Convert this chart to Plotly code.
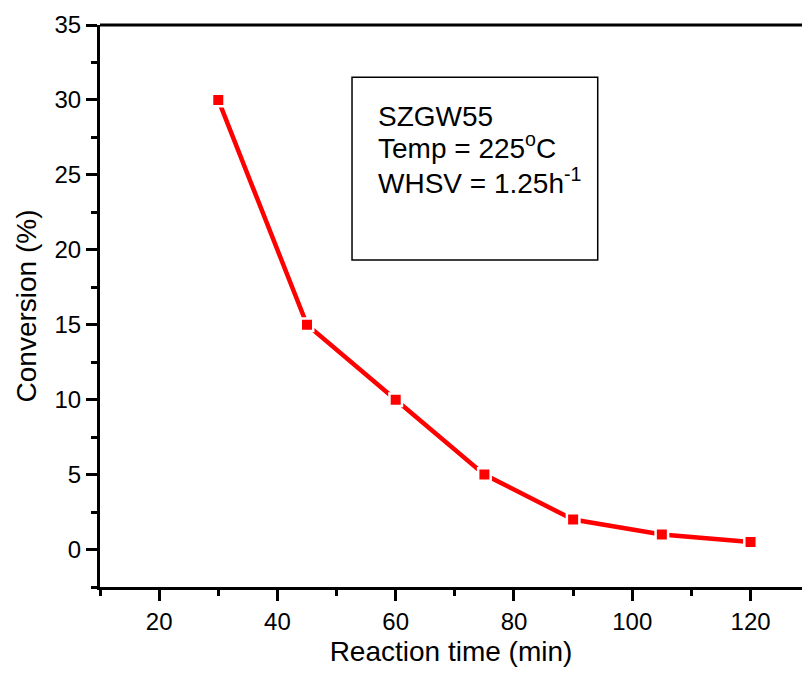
import plotly.graph_objects as go

reaction_time = [30, 45, 60, 75, 90, 105, 120]
conversion = [30, 15, 10, 5, 2, 1, 0.5]
box_lines = ["SZGW55", "Temp = 225<sup>o</sup>C", "WHSV = 1.25h<sup>-1</sup>"]

FONT = "Liberation Sans, Arial, sans-serif"
RED = "#ff0000"

fig = go.Figure()
fig.add_trace(go.Scatter(
    x=reaction_time, y=conversion, mode="lines+markers",
    line=dict(color=RED, width=4.5),
    marker=dict(symbol="square", size=12.5, color=RED, line=dict(color="white", width=2.5)),
    showlegend=False,
))

axis_common = dict(
    showgrid=False, zeroline=False, showline=True, linecolor="black", linewidth=3,
    ticks="outside", tickcolor="black", tickwidth=3,
    tickfont=dict(family=FONT, size=24, color="black"),
)

fig.update_xaxes(
    range=[10, 128.7], tick0=0, dtick=20, ticklen=11,
    minor=dict(dtick=10, tick0=0, ticklen=6, tickwidth=3, tickcolor="black", ticks="outside"),
    title=dict(text="Reaction time (min)", font=dict(family=FONT, size=28, color="black"), standoff=8),
    **axis_common,
)
fig.update_yaxes(
    range=[-2.5, 35], tick0=0, dtick=5, ticklen=11,
    minor=dict(dtick=2.5, tick0=0, ticklen=6, tickwidth=3, tickcolor="black", ticks="outside"),
    title=dict(text="Conversion (%)", font=dict(family=FONT, size=28, color="black"), standoff=10),
    **axis_common,
)

# top border line
fig.add_shape(type="line", xref="paper", yref="paper", x0=0, x1=1, y0=1, y1=1,
              line=dict(color="black", width=3))
# text box
fig.add_shape(type="rect", xref="paper", yref="paper", x0=0.359, x1=0.709, y0=0.582, y1=0.907,
              line=dict(color="black", width=1.5), fillcolor="rgba(0,0,0,0)")
ys = [0.838, 0.785, 0.722]
for t, yy in zip(box_lines, ys):
    fig.add_annotation(text=t, xref="paper", yref="paper", x=0.393, y=yy,
                       xanchor="left", yanchor="middle", showarrow=False,
                       font=dict(family=FONT, size=28, color="black"))

fig.update_layout(
    width=802, height=677,
    margin=dict(l=100, r=0, t=25, b=90),
    plot_bgcolor="white", paper_bgcolor="white",
)

fig.write_html("out.html")
